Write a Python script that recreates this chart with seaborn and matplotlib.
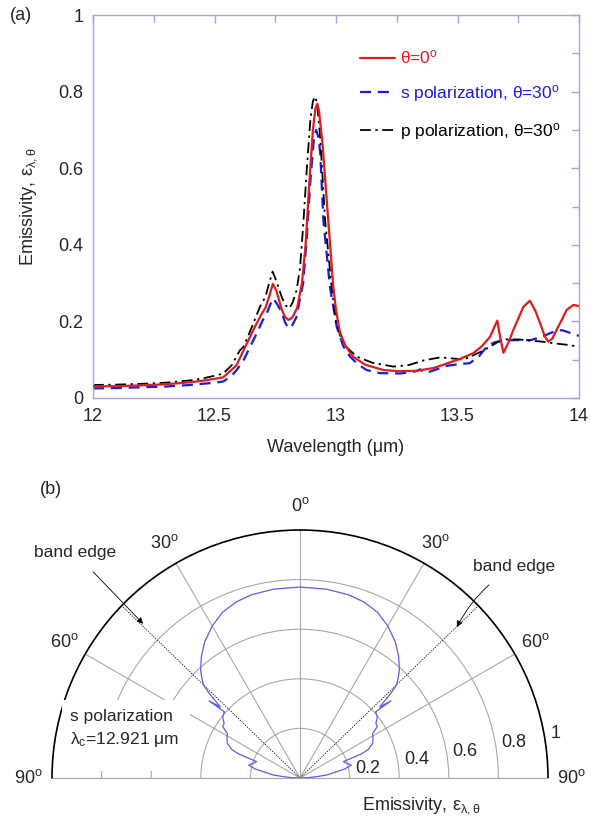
import numpy as np
import pandas as pd
import matplotlib
matplotlib.use('Agg')
import matplotlib.pyplot as plt
from matplotlib.patches import Rectangle
import seaborn as sns

# ---- (a) spectral emissivity ----
wl_red = [12.00, 12.10, 12.20, 12.30, 12.40, 12.45, 12.50, 12.536, 12.55, 12.59, 12.62, 12.66, 12.69,
          12.71, 12.725, 12.74, 12.755, 12.776, 12.79, 12.804, 12.82, 12.84, 12.86, 12.875, 12.89,
          12.905, 12.915, 12.923, 12.93, 12.945, 12.968, 12.989, 13.00, 13.016, 13.04, 13.07, 13.12,
          13.195, 13.26, 13.33, 13.40, 13.456, 13.51, 13.565, 13.60, 13.634, 13.655, 13.664, 13.675,
          13.689, 13.71, 13.73, 13.771, 13.798, 13.82, 13.84, 13.86, 13.874, 13.89, 13.908, 13.93,
          13.949, 13.977, 14.00]
em_red = [0.030, 0.031, 0.033, 0.036, 0.041, 0.045, 0.050, 0.054, 0.062, 0.085, 0.125, 0.178, 0.215,
          0.236, 0.265, 0.298, 0.280, 0.232, 0.212, 0.204, 0.210, 0.235, 0.300, 0.400, 0.560,
          0.700, 0.755, 0.768, 0.750, 0.660, 0.465, 0.290, 0.230, 0.172, 0.135, 0.108, 0.087,
          0.073, 0.070, 0.071, 0.078, 0.090, 0.102, 0.117, 0.135, 0.160, 0.190, 0.202, 0.160,
          0.118, 0.145, 0.178, 0.238, 0.254, 0.228, 0.195, 0.160, 0.147, 0.155, 0.178, 0.205,
          0.230, 0.243, 0.240]

wl_s = [12.00, 12.10, 12.20, 12.30, 12.40, 12.45, 12.50, 12.536, 12.57, 12.59, 12.62, 12.66, 12.674,
        12.70, 12.715, 12.73, 12.742, 12.758, 12.776, 12.79, 12.804, 12.82, 12.838, 12.852, 12.865,
        12.88, 12.895, 12.908, 12.918, 12.928, 12.935, 12.948, 12.975, 13.003, 13.03, 13.058, 13.09,
        13.126, 13.18, 13.263, 13.29, 13.33, 13.346, 13.36, 13.373, 13.42, 13.456, 13.50, 13.551,
        13.59, 13.62, 13.65, 13.689, 13.75, 13.798, 13.84, 13.88, 13.908, 13.93, 13.95, 13.977, 14.00]
em_s = [0.025, 0.026, 0.028, 0.030, 0.034, 0.037, 0.040, 0.043, 0.058, 0.072, 0.099, 0.151, 0.169,
        0.205, 0.221, 0.245, 0.260, 0.245, 0.225, 0.198, 0.182, 0.190, 0.212, 0.260, 0.300,
        0.420, 0.570, 0.670, 0.700, 0.680, 0.640, 0.465, 0.290, 0.186, 0.135, 0.108, 0.088,
        0.073, 0.065, 0.064, 0.066, 0.070, 0.075, 0.068, 0.066, 0.076, 0.084, 0.088, 0.091,
        0.110, 0.134, 0.145, 0.151, 0.151, 0.151, 0.158, 0.169, 0.176, 0.177, 0.173, 0.167, 0.162]

wl_p = [12.00, 12.10, 12.20, 12.30, 12.40, 12.45, 12.50, 12.536, 12.57, 12.605, 12.62, 12.66, 12.687,
        12.71, 12.725, 12.739, 12.755, 12.776, 12.792, 12.808, 12.822, 12.838, 12.852, 12.865, 12.88,
        12.895, 12.905, 12.914, 12.922, 12.935, 12.955, 12.982, 13.00, 13.016, 13.04, 13.085, 13.15,
        13.236, 13.30, 13.36, 13.428, 13.47, 13.524, 13.56, 13.60, 13.634, 13.665, 13.70, 13.75,
        13.798, 13.85, 13.894, 13.95, 14.00]
em_p = [0.034, 0.035, 0.037, 0.040, 0.046, 0.051, 0.058, 0.064, 0.085, 0.125, 0.134, 0.195, 0.238,
        0.265, 0.300, 0.330, 0.305, 0.265, 0.242, 0.234, 0.250, 0.282, 0.340, 0.450, 0.600,
        0.730, 0.775, 0.787, 0.770, 0.680, 0.465, 0.290, 0.200, 0.165, 0.135, 0.108, 0.092,
        0.082, 0.086, 0.098, 0.106, 0.104, 0.100, 0.110, 0.122, 0.134, 0.146, 0.153, 0.153,
        0.150, 0.147, 0.143, 0.139, 0.134]

series_labels = [r'$\theta$=0$^{o}$', r's polarization, $\theta$=30$^{o}$', r'p polarization, $\theta$=30$^{o}$']

# ---- (b) angular emissivity, s polarization at 12.921 um (right half, mirrored) ----
ang_half = [0, 8, 15, 20, 25, 30, 35, 39, 42.6, 44.5, 46.1, 47.0, 47.8, 48.3, 49.7, 48.8, 51.6, 54.3,
            56.4, 58.4, 61.5, 64.5, 67.2, 68.5, 69.4, 75.9, 78.5, 80.3, 83.6, 85.5, 87.5, 90]
em_half = [0.770, 0.769, 0.764, 0.755, 0.738, 0.708, 0.670, 0.632, 0.592, 0.565, 0.540, 0.500, 0.455,
           0.430, 0.481, 0.405, 0.398, 0.377, 0.374, 0.344, 0.335, 0.325, 0.299, 0.270, 0.187,
           0.213, 0.185, 0.150, 0.108, 0.065, 0.032, 0.0]
band_edge_deg = 46
r_ticks = [0.2, 0.4, 0.6, 0.8, 1.0]
theta_ticks = [-90, -60, -30, 0, 30, 60, 90]

sns.set_theme(style='white')
plt.rcParams['font.family'] = ['Liberation Sans', 'DejaVu Sans']
plt.rcParams['mathtext.fontset'] = 'custom'
plt.rcParams['mathtext.rm'] = 'Liberation Sans'
plt.rcParams['mathtext.it'] = 'Liberation Sans'
plt.rcParams['mathtext.default'] = 'regular'
plt.rcParams['font.size'] = 13

W, H = 591, 827
fig = plt.figure(figsize=(W / 100, H / 100), dpi=100)

def fx(px):
    return px / W

def fy(py):
    return 1 - py / H

# top panel
ax = fig.add_axes([fx(93), fy(398), fx(579) - fx(93), fy(15) - fy(398)])
red, blue = '#dd1c1c', '#1c1cdc'
sns.lineplot(x=wl_red, y=em_red, ax=ax, color=red, lw=1.6, label=series_labels[0])
sns.lineplot(x=wl_s, y=em_s, ax=ax, color=blue, lw=1.6, dashes=False, label=series_labels[1])
sns.lineplot(x=wl_p, y=em_p, ax=ax, color='black', lw=1.3, label=series_labels[2])
ax.lines[1].set_dashes((5, 3))
ax.lines[2].set_dashes((6, 2.5, 1.3, 2.5))
ax.lines[0].set_zorder(4)

ax.set_xlim(12, 14)
ax.set_ylim(0, 1)
ax.set_xticks([12, 12.5, 13, 13.5, 14])
ax.set_xticklabels(['12', '12.5', '13', '13.5', '14'])
ax.set_yticks([0, 0.2, 0.4, 0.6, 0.8, 1])
ax.set_yticklabels(['0', '0.2', '0.4', '0.6', '0.8', '1'])
ax.set_xticks(np.arange(12, 14.01, 0.25), minor=True)
ax.set_yticks(np.arange(0, 1.01, 0.1), minor=True)
spine_c = '#a3a3ea'
for s in ax.spines.values():
    s.set_color(spine_c)
    s.set_linewidth(1.0)
ax.tick_params(which='both', direction='in', top=True, right=True, color=spine_c,
               labelsize=13, width=1.0)
ax.tick_params(which='major', length=6, pad=7)
ax.tick_params(which='minor', length=5)
ax.set_xlabel(u'Wavelength (\u03bcm)', fontsize=13, labelpad=10)
ax.set_ylabel(r'Emissivity, $\epsilon_{\lambda,\theta}$', fontsize=13, labelpad=14)

leg = ax.legend(loc='upper left', bbox_to_anchor=(0.549, 0.912), frameon=False, fontsize=12.5,
                handlelength=2.0, handletextpad=0.3, labelspacing=0.95, borderpad=0, borderaxespad=0)
for t, c in zip(leg.get_texts(), [red, blue, 'black']):
    t.set_color(c)
fig.text(fx(10), fy(16), '(a)', fontsize=13, va='center', ha='left')

# bottom panel (polar half disc); square box so the wedge keeps its full radius
R = 248
cx, cy = 300, 778
mid = cy - R / 2
pax = fig.add_axes([fx(cx - R), fy(mid + R), fx(2 * R), fy(mid - R) - fy(mid + R)],
                   projection='polar')
pax.set_theta_zero_location('N')
pax.set_theta_direction(-1)
pax.set_thetamin(-90)
pax.set_thetamax(90)
pax.set_rlim(0, 1)

ang_full = [-a for a in ang_half[::-1]] + ang_half[1:]
em_full = em_half[::-1] + em_half[1:]
df_b = pd.DataFrame({'theta': np.deg2rad(ang_full), 'em': em_full})
sns.lineplot(data=df_b, x='theta', y='em', ax=pax, sort=False, estimator=None,
             color='#5c5ce6', lw=0.9, zorder=5)
for a in (-band_edge_deg, band_edge_deg):
    pax.plot([0, np.deg2rad(a)], [0, 1], color='black', lw=0.6, ls=(0, (1.5, 1.5)), zorder=4)

pax.set_rticks(r_ticks)
pax.set_yticklabels([])
pax.set_thetagrids(theta_ticks, [r'90$^{o}$', r'60$^{o}$', r'30$^{o}$', r'0$^{o}$',
                                 r'30$^{o}$', r'60$^{o}$', r'90$^{o}$'], fontsize=13)
pax.tick_params(axis='x', pad=4)
pax.grid(True, color='#a8a8a8', lw=0.8)
pax.spines['polar'].set_color('black')
pax.spines['polar'].set_linewidth(1.2)
for k in ('start', 'end'):
    pax.spines[k].set_color('#a8a8a8')
    pax.spines[k].set_linewidth(0.8)
pax.set_xlabel('')
pax.set_ylabel('')
for v in r_ticks:
    pax.text(np.deg2rad(80), v + 0.025, '%g' % v, ha='left', va='center', fontsize=13)

fig.text(fx(40), fy(490), '(b)', fontsize=13, va='center', ha='left')
fig.text(fx(362), fy(806), r'Emissivity, $\epsilon_{\lambda,\theta}$', fontsize=13, va='center', ha='left')

# white patch behind the s-polarization note (hides grid like the original)
fig.patches.append(Rectangle((fx(62), fy(771)), fx(190) - fx(62), fy(700) - fy(771),
                             transform=fig.transFigure, facecolor='white', edgecolor='none',
                             zorder=1))
fig.text(fx(70), fy(729), u's polarization\n$\\lambda_c$=12.921 \u03bcm', fontsize=12.5,
         va='center', ha='left', linespacing=1.45, zorder=3)

pax.annotate('band edge', xy=(np.deg2rad(-45.5), 0.887), xytext=(fx(75), fy(553)),
             textcoords='figure fraction', ha='center', va='center', fontsize=12.5,
             arrowprops=dict(arrowstyle='-|>', color='black', lw=0.6, mutation_scale=9,
                             shrinkA=8, shrinkB=0))
pax.annotate('band edge', xy=(np.deg2rad(46.1), 0.878), xytext=(fx(514), fy(567)),
             textcoords='figure fraction', ha='center', va='center', fontsize=12.5,
             arrowprops=dict(arrowstyle='-|>', color='black', lw=0.6, mutation_scale=9,
                             shrinkA=8, shrinkB=0, connectionstyle='arc3,rad=0.15'))

fig.savefig('out.png', dpi=100)
